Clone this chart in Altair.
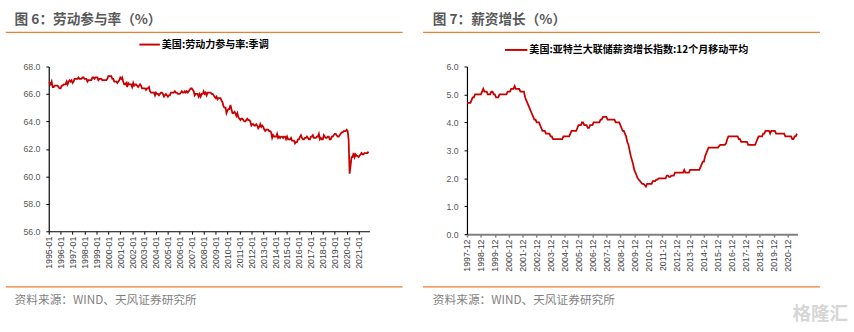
import altair as alt
import pandas as pd

RED = "#C80000"
ORANGE = "#ED7D31"
CJK = "Noto Sans CJK SC"
NUM = "Liberation Sans"

# ---------------- data ----------------
lfpr_start = "1995-01-01"
lfpr = [
    66.8, 66.8, 66.7, 66.9, 66.5, 66.5, 66.6, 66.6, 66.6, 66.6, 66.5, 66.4,  # 1995
    66.4, 66.6, 66.6, 66.7, 66.7, 66.7, 66.9, 66.7, 66.9, 67.0, 66.9, 67.0,  # 1996
    66.8, 66.9, 67.1, 67.1, 67.1, 67.1, 67.2, 67.1, 67.1, 67.1, 67.2, 67.2,  # 1997
    67.1, 67.1, 67.1, 66.9, 67.0, 67.0, 67.0, 67.0, 67.2, 67.2, 67.1, 67.2,  # 1998
    67.2, 67.2, 67.0, 67.1, 67.1, 67.1, 67.0, 67.0, 67.0, 67.0, 67.0, 67.1,  # 1999
    67.3, 67.3, 67.3, 67.3, 67.1, 67.1, 66.9, 66.9, 66.9, 66.8, 66.9, 67.0,  # 2000
    67.2, 67.1, 67.2, 66.9, 66.7, 66.7, 66.8, 66.5, 66.8, 66.7, 66.7, 66.7,  # 2001
    66.5, 66.8, 66.6, 66.7, 66.7, 66.6, 66.5, 66.6, 66.7, 66.6, 66.4, 66.4,  # 2002
    66.4, 66.4, 66.3, 66.4, 66.4, 66.5, 66.2, 66.1, 66.1, 66.1, 66.1, 65.9,  # 2003
    66.1, 66.0, 66.0, 65.9, 66.0, 66.1, 66.1, 66.0, 65.8, 65.9, 66.0, 65.9,  # 2004
    65.8, 65.9, 65.9, 66.1, 66.1, 66.1, 66.1, 66.2, 66.1, 66.1, 66.0, 66.0,  # 2005
    66.0, 66.1, 66.2, 66.1, 66.1, 66.2, 66.1, 66.2, 66.1, 66.2, 66.3, 66.4,  # 2006
    66.4, 66.3, 66.2, 65.9, 66.0, 66.0, 66.0, 65.8, 66.0, 65.8, 66.0, 66.0,  # 2007
    66.2, 66.0, 66.1, 65.9, 66.1, 66.1, 66.1, 66.1, 66.0, 66.0, 65.9, 65.8,  # 2008
    65.7, 65.8, 65.6, 65.7, 65.7, 65.7, 65.5, 65.4, 65.1, 65.0, 65.0, 64.6,  # 2009
    64.8, 64.9, 64.9, 65.2, 64.9, 64.6, 64.6, 64.7, 64.6, 64.4, 64.6, 64.3,  # 2010
    64.2, 64.1, 64.2, 64.2, 64.1, 64.0, 64.0, 64.1, 64.2, 64.1, 64.1, 64.0,  # 2011
    63.7, 63.8, 63.8, 63.7, 63.7, 63.8, 63.7, 63.5, 63.6, 63.8, 63.6, 63.7,  # 2012
    63.6, 63.4, 63.3, 63.4, 63.4, 63.4, 63.3, 63.3, 63.2, 62.8, 63.0, 62.9,  # 2013
    62.9, 62.9, 63.1, 62.8, 62.9, 62.8, 62.9, 62.9, 62.8, 62.9, 62.9, 62.7,  # 2014
    62.9, 62.7, 62.7, 62.7, 62.8, 62.6, 62.6, 62.6, 62.4, 62.5, 62.5, 62.7,  # 2015
    62.7, 62.9, 63.0, 62.8, 62.7, 62.7, 62.8, 62.8, 62.9, 62.8, 62.7, 62.7,  # 2016
    62.9, 62.9, 63.0, 62.8, 62.8, 62.8, 62.9, 62.9, 63.1, 62.7, 62.8, 62.7,  # 2017
    62.7, 63.0, 62.9, 62.8, 62.8, 62.9, 62.9, 62.7, 62.7, 62.9, 62.9, 63.0,  # 2018
    63.1, 63.1, 63.0, 62.9, 62.9, 63.0, 63.1, 63.2, 63.2, 63.3, 63.3, 63.3,  # 2019
    63.4, 63.3, 62.7, 60.2, 60.8, 61.4, 61.4, 61.7, 61.4, 61.6, 61.5, 61.5,  # 2020
    61.4, 61.5, 61.6, 61.7, 61.6, 61.6, 61.7, 61.7, 61.7, 61.7, 61.8,        # 2021
]

wage_start = "1997-12-01"
wage = [
    4.7,                                                              # 1997-12
    4.7, 4.7, 4.7, 4.8, 4.9, 4.9, 5.0, 5.0, 5.0, 5.0, 5.0, 5.0,        # 1998
    5.1, 5.2, 5.1, 5.1, 5.1, 5.0, 5.0, 5.0, 5.1, 5.1, 5.0, 5.0,        # 1999
    4.9, 4.9, 4.9, 5.0, 5.0, 5.0, 5.0, 5.0, 5.0, 5.0, 5.1, 5.1,        # 2000
    5.1, 5.2, 5.2, 5.2, 5.3, 5.2, 5.2, 5.2, 5.2, 5.1, 5.1, 5.1,        # 2001
    5.1, 4.9, 4.8, 4.7, 4.6, 4.5, 4.4, 4.3, 4.2, 4.1, 4.1, 4.0,        # 2002
    4.0, 4.0, 3.9, 3.8, 3.7, 3.7, 3.7, 3.6, 3.6, 3.6, 3.6, 3.5,        # 2003
    3.5, 3.4, 3.4, 3.4, 3.4, 3.4, 3.4, 3.4, 3.4, 3.4, 3.5, 3.5,        # 2004
    3.5, 3.5, 3.5, 3.5, 3.6, 3.7, 3.7, 3.7, 3.7, 3.7, 3.8, 3.9,        # 2005
    3.9, 3.9, 4.0, 4.0, 3.9, 3.9, 3.9, 3.8, 3.8, 3.9, 3.9, 3.9,        # 2006
    4.0, 4.0, 4.0, 4.0, 4.0, 4.0, 4.1, 4.1, 4.2, 4.2, 4.2, 4.2,        # 2007
    4.1, 4.1, 4.1, 4.1, 4.1, 4.1, 4.1, 4.0, 4.0, 4.0, 4.0, 3.9,        # 2008
    3.8, 3.7, 3.7, 3.6, 3.5, 3.3, 3.2, 3.0, 2.8, 2.65, 2.5, 2.3,       # 2009
    2.2, 2.1, 2.0, 1.95, 1.9, 1.85, 1.8, 1.8, 1.75, 1.7, 1.8, 1.8,     # 2010
    1.8, 1.8, 1.8, 1.9, 1.9, 1.9, 1.95, 1.95, 2.0, 2.0, 2.0, 2.0,      # 2011
    2.0, 2.0, 2.0, 2.1, 2.1, 2.05, 2.05, 2.1, 2.1, 2.1, 2.2, 2.2,      # 2012
    2.2, 2.2, 2.2, 2.2, 2.2, 2.2, 2.3, 2.2, 2.2, 2.2, 2.2, 2.3,        # 2013
    2.3, 2.3, 2.3, 2.3, 2.3, 2.3, 2.3, 2.3, 2.4, 2.5, 2.6, 2.6,        # 2014
    2.8, 2.9, 3.0, 3.1, 3.1, 3.1, 3.1, 3.1, 3.1, 3.1, 3.1, 3.1,        # 2015
    3.15, 3.2, 3.2, 3.2, 3.2, 3.2, 3.25, 3.4, 3.5, 3.5, 3.5, 3.5,     # 2016
    3.5, 3.5, 3.5, 3.5, 3.5, 3.4, 3.4, 3.3, 3.3, 3.3, 3.3, 3.3,        # 2017
    3.3, 3.2, 3.2, 3.2, 3.2, 3.2, 3.2, 3.2, 3.3, 3.4, 3.5, 3.5,        # 2018
    3.5, 3.5, 3.6, 3.6, 3.7, 3.7, 3.7, 3.7, 3.6, 3.7, 3.7, 3.7,        # 2019
    3.7, 3.6, 3.6, 3.6, 3.6, 3.6, 3.6, 3.6, 3.6, 3.5, 3.5, 3.5,        # 2020
    3.5, 3.5, 3.5, 3.4, 3.4, 3.5, 3.5, 3.6,                            # 2021
]

lfpr_tick_years = list(range(1995, 2022))   # labels "YYYY-01"
wage_tick_years = list(range(1997, 2021))   # labels "YYYY-12"
lfpr_yticks = [56, 58, 60, 62, 64, 66, 68]
wage_yticks = [0, 1, 2, 3, 4, 5, 6]

title_left = "图 6：劳动参与率（%）"
title_right = "图 7：薪资增长（%）"
legend_left = "美国:劳动力参与率:季调"
legend_right = "美国:亚特兰大联储薪资增长指数:12个月移动平均"
source_text = "资料来源：WIND、天风证券研究所"
watermark = "格隆汇"

lfpr_df = pd.DataFrame({
    "date": pd.date_range(lfpr_start, periods=len(lfpr), freq="MS").strftime("%Y-%m-%d"),
    "v": lfpr,
})
wage_df = pd.DataFrame({
    "date": pd.date_range(wage_start, periods=len(wage), freq="MS").strftime("%Y-%m-%d"),
    "v": wage,
})


def dt(y, m, d=1):
    return alt.DateTime(year=y, month=m, date=d, utc=True)


def one(t):
    return pd.DataFrame({"t": [t]})


def decorations(title, legend, lx1, lx2, ly, tx, rx1, rx2, extra=None):
    layers = [
        alt.Chart(one(title)).mark_text(align="left", baseline="middle", font=CJK,
                                        fontSize=14, fontWeight="bold", color="#595959")
        .encode(x=alt.value(-35), y=alt.value(-47.5), text="t:N"),
        alt.Chart(one("r")).mark_rule(color=ORANGE, strokeWidth=1.3)
        .encode(x=alt.value(rx1), x2=alt.value(rx2), y=alt.value(-35)),
        alt.Chart(one("l")).mark_rule(color=RED, strokeWidth=2)
        .encode(x=alt.value(lx1), x2=alt.value(lx2), y=alt.value(ly)),
        alt.Chart(one(legend)).mark_text(align="left", baseline="middle", font=CJK,
                                         fontSize=10.3, fontWeight="bold", color="#000000")
        .encode(x=alt.value(tx), y=alt.value(ly), text="t:N"),
        alt.Chart(one("b")).mark_rule(color=ORANGE, strokeWidth=1.3)
        .encode(x=alt.value(rx1), x2=alt.value(rx2), y=alt.value(226)),
        alt.Chart(one(source_text)).mark_text(align="left", baseline="middle", font=CJK,
                                              fontSize=12, color="#7F7F7F")
        .encode(x=alt.value(-35), y=alt.value(240), text="t:N"),
    ]
    if extra is not None:
        layers.append(extra)
    return layers


# ---------------- left panel ----------------
left_line = alt.Chart(lfpr_df).mark_line(color=RED, strokeWidth=1.8).encode(
    x=alt.X("date:T",
            scale=alt.Scale(type="utc", domain=[dt(1995, 1), dt(2021, 12)], nice=False),
            axis=alt.Axis(values=[dt(y, 1) for y in lfpr_tick_years],
                          labelExpr="utcFormat(datum.value, '%Y-%m')",
                          labelAngle=270, labelAlign="right", labelBaseline="middle",
                          labelFont=NUM, labelFontSize=9, labelColor="#404040",
                          labelOverlap=False, labelFlush=False, labelPadding=2,
                          tickSize=3, tickColor="#000000", domainColor="#000000",
                          domainWidth=1.2, grid=False, title=None)),
    y=alt.Y("v:Q",
            scale=alt.Scale(domain=[56, 68], nice=False, zero=False),
            axis=alt.Axis(values=lfpr_yticks, format=".1f",
                          labelFont=NUM, labelFontSize=9, labelColor="#595959",
                          labelPadding=6, tickSize=3, tickColor="#000000",
                          domainColor="#000000", domainWidth=1.2, grid=False, title=None)),
)

left = alt.layer(
    left_line,
    *decorations(title_left, legend_left, 93, 114, -22.5, 116, -44, 363),
).properties(width=329, height=169)

# ---------------- right panel ----------------
right_line = alt.Chart(wage_df).mark_line(color=RED, strokeWidth=1.8).encode(
    x=alt.X("date:T",
            scale=alt.Scale(type="utc", domain=[dt(1997, 12), dt(2021, 8, 15)], nice=False),
            axis=alt.Axis(values=[dt(y, 12) for y in wage_tick_years],
                          labelExpr="utcFormat(datum.value, '%Y-%m')",
                          labelAngle=270, labelAlign="right", labelBaseline="middle",
                          labelFont=NUM, labelFontSize=9, labelColor="#404040",
                          labelOverlap=False, labelFlush=False, labelPadding=2,
                          tickSize=3, tickColor="#808080", tickWidth=1.5,
                          domainColor="#808080", domainWidth=2, grid=False, title=None)),
    y=alt.Y("v:Q",
            scale=alt.Scale(domain=[0, 6], nice=False),
            axis=alt.Axis(values=wage_yticks, format=".1f",
                          labelFont=NUM, labelFontSize=9, labelColor="#595959",
                          labelPadding=6, tickSize=3, tickColor="#000000",
                          domainColor="#000000", domainWidth=1.2, grid=False, title=None)),
)

wm = alt.Chart(one(watermark)).mark_text(align="left", baseline="middle", font=CJK,
                                         fontSize=19, fontWeight="bold", color="#D6D6D6") \
    .encode(x=alt.value(334), y=alt.value(254), text="t:N")

right = alt.layer(
    right_line,
    *decorations(title_right, legend_right, 39, 62, -17, 64, -45, 362, extra=wm),
).properties(width=339, height=172)

chart = alt.hconcat(left, right, spacing=19).properties(
    padding={"left": 5, "top": 9, "right": 5, "bottom": 0},
    background="white",
).configure_view(stroke=None)

chart.save("out.html", embed_options={"renderer": "svg", "actions": False})
